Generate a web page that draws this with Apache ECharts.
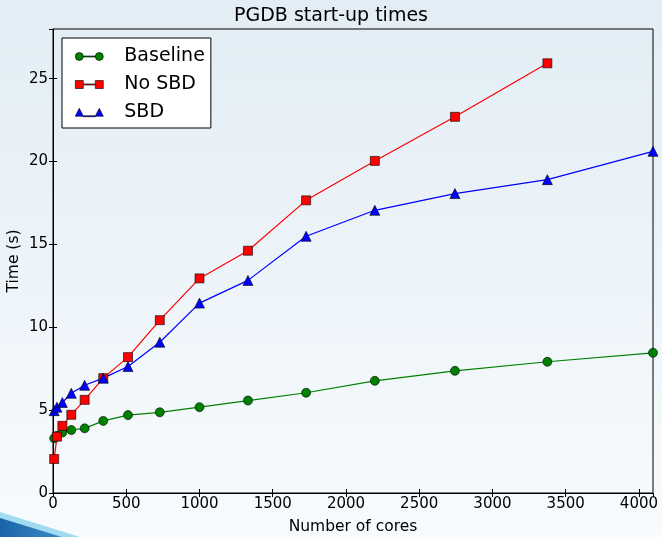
<!DOCTYPE html>
<html>
<head>
<meta charset="utf-8">
<script src="https://cdn.jsdelivr.net/npm/echarts@6/dist/echarts.min.js"></script>
<style>
  html, body { margin: 0; padding: 0; }
  #chart { width: 662px; height: 537px; }
</style>
</head>
<body>
<div id="chart"></div>
<script>
const cores = [8, 27, 64, 125, 216, 343, 512, 729, 1000, 1331, 1728, 2197, 2744, 3375, 4096]
const baseline = [3.3, 3.45, 3.65, 3.8, 3.9, 4.35, 4.7, 4.87, 5.18, 5.58, 6.05, 6.77, 7.37, 7.92, 8.46]
const noSbd = [2.05, 3.4, 4.05, 4.72, 5.62, 6.93, 8.2, 10.43, 12.95, 14.62, 17.66, 20.04, 22.7, 25.93]
const sbd = [4.97, 5.18, 5.46, 6.02, 6.5, 6.93, 7.63, 9.1, 11.46, 12.83, 15.49, 17.06, 18.07, 18.91, 20.62]
const seriesNames = ['Baseline', 'No SBD', 'SBD']
const xTicks = [0, 500, 1000, 1500, 2000, 2500, 3000, 3500, 4000]
const yTicks = [0, 5, 10, 15, 20, 25]

const FONT = 'DejaVu Sans'

const pair = (ys) => ys.map((y, i) => [cores[i], y])

// legend icons: two markers joined by a line, like matplotlib
const iconCircle = 'path://M0,5a4,4 0 1,0 8,0a4,4 0 1,0 -8,0Z M8,4.5L20,4.5L20,5.5L8,5.5Z M20,5a4,4 0 1,0 8,0a4,4 0 1,0 -8,0Z'
const iconSquare = 'path://M0,1L8,1L8,9L0,9Z M8,4.5L20,4.5L20,5.5L8,5.5Z M20,1L28,1L28,9L20,9Z'
const iconTri = 'path://M0,9L4,1L8,9Z M8,8.5L20,8.5L20,9.5L8,9.5Z M20,9L24,1L28,9Z'

var chart = echarts.init(document.getElementById('chart'), null, { renderer: 'canvas' })

var option = {
  animation: false,
  backgroundColor: {
    type: 'linear', x: 0, y: 0, x2: 0, y2: 1,
    colorStops: [
      { offset: 0, color: '#e2edf5' },
      { offset: 1, color: '#f8fbfd' }
    ]
  },
  textStyle: { fontFamily: FONT },
  title: {
    text: 'PGDB start-up times',
    left: 'center',
    top: 2,
    textStyle: { fontFamily: FONT, fontSize: 19, fontWeight: 'normal', color: '#000' }
  },
  legend: {
    left: 62,
    top: 38,
    orient: 'vertical',
    backgroundColor: '#fff',
    borderColor: '#000',
    borderWidth: 1,
    borderRadius: 0,
    padding: [9, 6, 6, 13],
    itemWidth: 28,
    itemHeight: 10,
    itemGap: 9,
    textStyle: { fontFamily: FONT, fontSize: 19, color: '#000', padding: [0, 0, 0, 16] },
    data: [
      { name: seriesNames[0], icon: iconCircle },
      { name: seriesNames[1], icon: iconSquare },
      { name: seriesNames[2], icon: iconTri }
    ],
    itemStyle: { borderColor: '#000', borderWidth: 0.6 }
  },
  grid: {
    left: 53, right: 9, top: 29, bottom: 44,
    outerBoundsMode: 'none',
    show: true, borderColor: '#000', borderWidth: 1, backgroundColor: 'transparent'
  },
  xAxis: [
    {
      type: 'value', min: 0, max: 4096, interval: 500,
      name: 'Number of cores', nameLocation: 'middle', nameGap: 26, nameMoveOverlap: false,
      nameTextStyle: { fontFamily: FONT, fontSize: 15.5, color: '#000' },
      axisLine: { lineStyle: { color: '#000', width: 1 } },
      axisTick: { inside: true, length: 4, lineStyle: { color: '#000' } },
      axisLabel: { fontFamily: FONT, fontSize: 15, color: '#000', margin: 4, showMaxLabel: false,
        formatter: v => xTicks.indexOf(v) >= 0 ? String(v) : '' },
      splitLine: { show: false }
    },
    {
      type: 'value', min: 0, max: 4096, interval: 500, position: 'top',
      axisLine: { show: false },
      axisTick: { inside: true, length: 4, lineStyle: { color: '#000' } },
      axisLabel: { show: false },
      splitLine: { show: false }
    }
  ],
  yAxis: [
    {
      type: 'value', min: 0, max: 28, interval: 5,
      name: 'Time (s)', nameLocation: 'middle', nameGap: 31, nameMoveOverlap: false,
      nameTextStyle: { fontFamily: FONT, fontSize: 15.5, color: '#000' },
      axisLine: { show: true, lineStyle: { color: '#000', width: 1 } },
      axisTick: { show: true, inside: true, length: 4, lineStyle: { color: '#000' } },
      axisLabel: { fontFamily: FONT, fontSize: 15, color: '#000', margin: 5, showMaxLabel: false,
        formatter: v => yTicks.indexOf(v) >= 0 ? String(v) : '' },
      splitLine: { show: false }
    },
    {
      type: 'value', min: 0, max: 28, interval: 5, position: 'right',
      axisLine: { show: false },
      axisTick: { show: true, inside: true, length: 4, lineStyle: { color: '#000' } },
      axisLabel: { show: false },
      splitLine: { show: false }
    }
  ],
  graphic: [
    {
      type: 'polygon', silent: true, z: -10,
      shape: { points: [[0, 512], [80, 537], [0, 537]] },
      style: { fill: '#9fdcef' }
    },
    {
      type: 'polygon', silent: true, z: -9,
      shape: { points: [[0, 518], [62, 537], [0, 537]] },
      style: {
        fill: {
          type: 'linear', x: 0, y: 0, x2: 1, y2: 0,
          colorStops: [{ offset: 0, color: '#1a63a8' }, { offset: 1, color: '#3a8cc8' }]
        }
      }
    }
  ],
  series: [
    {
      name: seriesNames[0], type: 'line', data: pair(baseline),
      symbol: 'circle', symbolSize: 9,
      lineStyle: { color: '#008000', width: 1.2 },
      itemStyle: { color: '#008000', borderColor: '#000', borderWidth: 0.6 }
    },
    {
      name: seriesNames[1], type: 'line', data: pair(noSbd),
      symbol: 'rect', symbolSize: 9,
      lineStyle: { color: '#ff0000', width: 1.2 },
      itemStyle: { color: '#ff0000', borderColor: '#000', borderWidth: 0.6 }
    },
    {
      name: seriesNames[2], type: 'line', data: pair(sbd),
      symbol: 'triangle', symbolSize: 10,
      lineStyle: { color: '#0000ff', width: 1.2 },
      itemStyle: { color: '#0000ff', borderColor: '#000', borderWidth: 0.6 }
    }
  ]
}

option && chart.setOption(option)
</script>
</body>
</html>
